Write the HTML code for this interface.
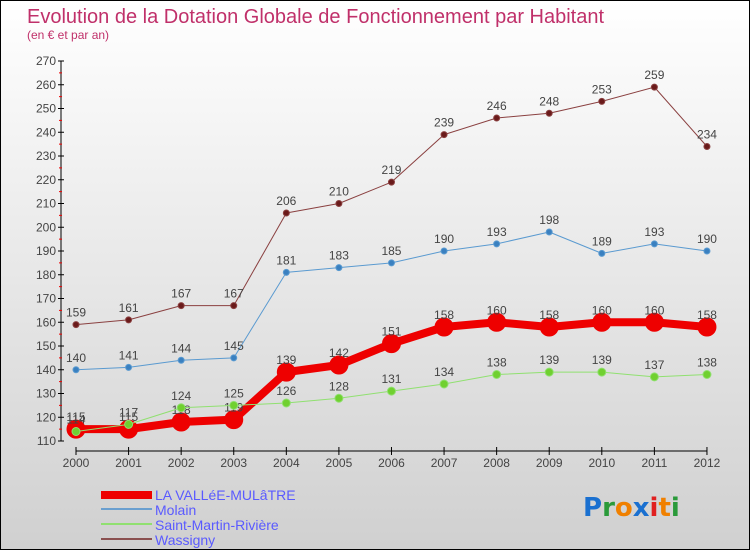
<!DOCTYPE html>
<html><head><meta charset="utf-8"><style>
body{margin:0}
#c{position:relative;width:748px;height:548px;border:1px solid #000;background:linear-gradient(#fff,#d0d0d0);font-family:"Liberation Sans",sans-serif;overflow:hidden}
</style></head><body>
<div id="c">
<svg id="s" width="748" height="548" xmlns="http://www.w3.org/2000/svg">
<text x="26" y="22" font-size="20" fill="#c0306a">Evolution de la Dotation Globale de Fonctionnement par Habitant</text>
<text x="26" y="38" font-size="12" fill="#c0306a">(en € et par an)</text>
<g id="ax"></g><g id="ser"></g>
<g>
<rect x="100" y="490" width="51" height="8" fill="#e00"/>
<text x="154" y="499" font-size="14" fill="#5a5aff">LA VALLéE-MULâTRE</text>
<rect x="100" y="507" width="51" height="2" fill="#6a9fcf"/>
<text x="154" y="514" font-size="14" fill="#5a5aff">Molain</text>
<rect x="100" y="522" width="51" height="2" fill="#90e070"/>
<text x="154" y="529" font-size="14" fill="#5a5aff">Saint-Martin-Rivière</text>
<rect x="100" y="537" width="51" height="2" fill="#8a5050"/>
<text x="154" y="544" font-size="14" fill="#5a5aff">Wassigny</text>
</g>
<g font-size="26" font-weight="bold" font-family="DejaVu Sans, sans-serif">
<text x="582" y="515"><tspan fill="#1a70d0">P</tspan><tspan fill="#2a9a3a">r</tspan><tspan fill="#f08000">o</tspan><tspan fill="#1a70d0">x</tspan><tspan fill="#e02020">i</tspan><tspan fill="#f08000">t</tspan><tspan fill="#2a9a3a">i</tspan></text>
</g>
</svg>
</div>
<script>
const years=["2000","2001","2002","2003","2004","2005","2006","2007","2008","2009","2010","2011","2012"];
const yTicks=[110,120,130,140,150,160,170,180,190,200,210,220,230,240,250,260,270];
const laVallee=[115,115,118,119,139,142,151,158,160,158,160,160,158];
const molain=[140,141,144,145,181,183,185,190,193,198,189,193,190];
const saintMartin=[114,117,124,125,126,128,131,134,138,139,139,137,138];
const wassigny=[159,161,167,167,206,210,219,239,246,248,253,259,234];
const NS="http://www.w3.org/2000/svg";
const X=i=>75+i*52.58, Y=v=>440-(v-110)*2.375;
function mk(t,a,p){const e=document.createElementNS(NS,t);for(const k in a)e.setAttribute(k,a[k]);p.appendChild(e);return e;}
const ax=document.getElementById('ax'),ser=document.getElementById('ser');
let l=mk('line',{x1:60,y1:Y(270),x2:60,y2:440,stroke:'#000'},ax);


l=mk('line',{x1:75,y1:450,x2:X(12),y2:450,stroke:'#000'},ax);


yTicks.forEach(v=>{
 mk('line',{x1:57,y1:Y(v),x2:63,y2:Y(v),stroke:'#000'},ax);
 if(v<270)mk('line',{x1:58,y1:Y(v+5),x2:61,y2:Y(v+5),stroke:'#e00'},ax);
 const t=mk('text',{x:55,y:Y(v)+4,'font-size':12,fill:'#444','text-anchor':'end'},ax);t.textContent=v;
 
 
});
years.forEach((y,i)=>{
 mk('line',{x1:X(i),y1:446,x2:X(i),y2:454,stroke:'#000'},ax);
 const t=mk('text',{x:X(i),y:466,'font-size':12,fill:'#444','text-anchor':'middle'},ax);t.textContent=y;
 
 
});
function series(d,col,w,r,dot,name){
 const g=mk('g',{},ser);
 
 
 mk('polyline',{points:d.map((v,i)=>X(i)+','+Y(v)).join(' '),fill:'none',stroke:col,'stroke-width':w,'stroke-linejoin':'round'},g);
 d.forEach((v,i)=>{
  const c=mk('circle',{cx:X(i),cy:Y(v),r:r,fill:dot,stroke:col,'stroke-width':1},g);
  
  
  const t=mk('text',{x:X(i),y:Y(v)-8,'font-size':12,fill:'#444','text-anchor':'middle'},g);t.textContent=v;
  
  
 });
}
series(wassigny,'#8a4040',1,3,'#6a1a1a','wassigny');
series(molain,'#5a9ad0',1,3,'#3a80c0','molain');
series(laVallee,'#e00',8,9,'#e00','la-vallee');
series(saintMartin,'#90e070',1,4,'#70d030','saint-martin');
</script>
</body></html>
